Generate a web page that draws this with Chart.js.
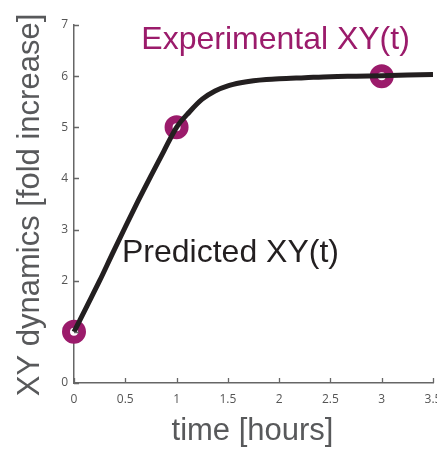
<!DOCTYPE html>
<html lang="en">
<head>
<meta charset="UTF-8">
<title>XY dynamics</title>
<script src="https://cdn.jsdelivr.net/npm/chart.js"></script>
<style>
  html, body { margin: 0; padding: 0; background: #fff; }
  canvas { display: block; }
</style>
</head>
<body>
<canvas id="chart" width="437" height="449"></canvas>
<script>
// predicted curve
const predTime = [0, 0.125, 0.25, 0.375, 0.5, 0.625, 0.75, 0.875, 1, 1.125, 1.25, 1.375, 1.5, 1.625, 1.75, 1.875, 2, 2.25, 2.5, 2.75, 3, 3.25, 3.5];
const predValues = [1, 1.5, 2.0, 2.53, 3.05, 3.56, 4.05, 4.53, 5.0, 5.3, 5.55, 5.71, 5.81, 5.87, 5.91, 5.935, 5.95, 5.97, 5.99, 6.0, 6.01, 6.02, 6.03];

// experimental points
const expTime = [0, 1, 3];
const expValues = [1, 5, 6];

const xTicks = [0, 0.5, 1, 1.5, 2, 2.5, 3, 3.5];
const yTicks = [0, 1, 2, 3, 4, 5, 6, 7];

const PURPLE = '#9b1b6b';
const DARK = '#231f20';
const GREY = '#58595b';

// titles, inward ticks and in-plot labels, drawn by hand
const labelsPlugin = {
    id: 'labels',
    afterDatasetsDraw(chart) {
        const ctx = chart.ctx;
        const xs = chart.scales.x, ys = chart.scales.y;
        ctx.save();
        ctx.font = '32px "Liberation Sans", Arial, sans-serif';
        ctx.textBaseline = 'alphabetic';

        ctx.fillStyle = PURPLE;
        ctx.textAlign = 'center';
        ctx.fillText('Experimental XY(t)', xs.getPixelForValue(1.965), ys.getPixelForValue(6.53));

        ctx.fillStyle = DARK;
        ctx.textAlign = 'left';
        ctx.fillText('Predicted XY(t)', xs.getPixelForValue(0.468), ys.getPixelForValue(2.37));
        ctx.restore();
    },
    afterDraw(chart) {
        const ctx = chart.ctx;
        const xs = chart.scales.x, ys = chart.scales.y;
        const area = chart.chartArea;
        ctx.save();
        ctx.strokeStyle = '#666';
        ctx.lineWidth = 1.3;
        ctx.beginPath();
        xTicks.forEach(v => {
            const px = Math.round(xs.getPixelForValue(v)) + 0.5;
            ctx.moveTo(px, area.bottom);
            ctx.lineTo(px, area.bottom - 5);
        });
        yTicks.forEach(v => {
            const py = Math.round(ys.getPixelForValue(v)) + 0.5;
            ctx.moveTo(area.left, py);
            ctx.lineTo(area.left + 5, py);
        });
        ctx.stroke();

        // axis titles
        ctx.fillStyle = GREY;
        ctx.font = '31px "Liberation Sans", Arial, sans-serif';
        ctx.textAlign = 'center';
        ctx.textBaseline = 'alphabetic';
        ctx.fillText('time [hours]', (area.left + area.right) / 2 - 1, 440);

        ctx.translate(39, 205);
        ctx.rotate(-Math.PI / 2);
        ctx.fillText('XY dynamics [fold increase]', 0, 0);
        ctx.restore();
    }
};

const tickFont = { size: 12, family: '"Open Sans", "DejaVu Sans", sans-serif' };

new Chart(document.getElementById('chart'), {
    type: 'line',
    data: {
        datasets: [
            {
                label: 'Predicted XY(t)',
                data: predTime.map((t, i) => ({ x: t, y: predValues[i] })),
                borderColor: DARK,
                borderWidth: 5,
                pointRadius: 0,
                cubicInterpolationMode: 'monotone',
                fill: false,
                order: 0
            },
            {
                label: 'Experimental XY(t)',
                data: expTime.map((t, i) => ({ x: t, y: expValues[i] })),
                showLine: false,
                pointRadius: 8,
                borderWidth: 8,
                pointBorderColor: PURPLE,
                pointBackgroundColor: '#fff',
                borderColor: PURPLE,
                backgroundColor: '#fff',
                order: 1
            }
        ]
    },
    options: {
        responsive: false,
        animation: false,
        clip: false,
        layout: { autoPadding: false, padding: { top: 25, right: 4, left: 0, bottom: 0 } },
        plugins: {
            legend: { display: false },
            tooltip: { enabled: false }
        },
        scales: {
            x: {
                type: 'linear',
                min: 0,
                max: 3.5,
                afterBuildTicks: s => { s.ticks = xTicks.map(v => ({ value: v })); },
                ticks: {
                    color: '#555',
                    font: tickFont,
                    padding: 9,
                    maxRotation: 0,
                    autoSkip: false,
                    callback: v => String(v)
                },
                grid: { drawOnChartArea: false, drawTicks: false },
                border: { color: '#666', width: 1.5 },
                afterFit: s => { s.height = 66; s.paddingLeft = 0; s.paddingRight = 0; }
            },
            y: {
                min: 0,
                max: 7,
                afterBuildTicks: s => { s.ticks = yTicks.map(v => ({ value: v })); },
                ticks: {
                    color: '#555',
                    font: tickFont,
                    padding: 6,
                    autoSkip: false,
                    callback: v => String(v)
                },
                grid: { drawOnChartArea: false, drawTicks: false },
                border: { color: '#666', width: 1.5 },
                afterFit: s => { s.width = 74; s.paddingTop = 0; s.paddingBottom = 0; }
            }
        }
    },
    plugins: [labelsPlugin]
});
</script>
</body>
</html>
